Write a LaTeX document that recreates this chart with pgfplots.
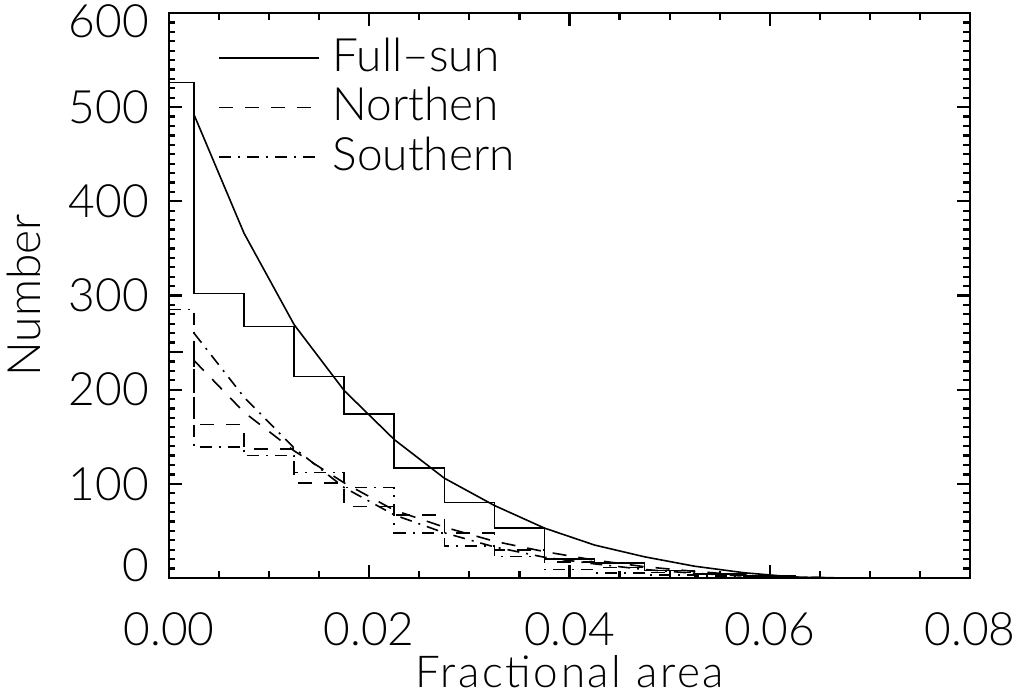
\documentclass[border=0pt]{standalone}
\usepackage{pgfplots}
\pgfplotsset{compat=1.18}
\usepackage{fontspec}
\setmainfont{Lato Light}
\begin{document}
\fontsize{23}{27}\selectfont
\begin{tikzpicture}
\useasboundingbox (-84.5pt,-59pt) rectangle (424.5pt,289pt);
\begin{axis}[
  scale only axis, width=400.5pt, height=282.5pt,
  anchor=south west, at={(0pt,0pt)},
  xmin=0, xmax=0.08, ymin=0, ymax=600,
  xtick={0,0.02,0.04,0.06,0.08},
  xticklabels={0.00,0.02,0.04,0.06,0.08},
  scaled x ticks=false,
  ytick={0,100,200,300,400,500,600},
  yticklabels={\raisebox{6.5pt}[\height][\depth]{0},100,200,300,400,500,\raisebox{-4pt}[\height][\depth]{600}},
  minor x tick num=3, minor y tick num=9,
  tick align=inside,
  major tick length=6.5pt, minor tick length=3.25pt,
  every axis/.append style={line width=1.1pt},
  tick style={black, line width=1.1pt},
  /pgf/number format/assume math mode=true,
  ticklabel style={font=\fontsize{23}{27}\selectfont},
  xticklabel style={inner sep=0.5pt, yshift=-16pt},
  yticklabel style={inner sep=2pt, xshift=-7.5pt},
  xlabel={\addfontfeature{LetterSpace=6}Fractional area},
  ylabel={Number},
  label style={font=\fontsize{23}{27}\selectfont, inner sep=0pt},
  every axis x label/.style={at={(axis description cs:0.5,-0.193)}, anchor=base,
    font=\fontsize{22}{26}\selectfont},
  every axis y label/.style={at={(axis description cs:-0.181,0.5)}, rotate=90, anchor=center},
  legend style={draw=none, fill=none, at={(axis cs:0.0048,579)}, anchor=north west,
    font=\fontsize{23}{27}\selectfont, row sep=0.5pt, inner sep=0pt,
    /tikz/column sep=4.5pt},
  legend cell align=left,
  legend image code/.code={\draw[#1] (0pt,0pt) -- (50pt,0pt);},
]
% legend entries
\addlegendimage{black, line width=0.8pt}
\addlegendentry{Full\textendash sun}
\addlegendimage{black, line width=0.8pt, dash pattern=on 7pt off 6pt}
\addlegendentry{Northen}
\addlegendimage{black, line width=0.8pt, dash pattern=on 6pt off 3.5pt on 1pt off 3.5pt}
\addlegendentry{Southern}

% Full-sun histogram
\addplot[black, line width=0.8pt, const plot mark mid, forget plot] coordinates {
 (0,526) (0.005,302) (0.01,267) (0.015,214) (0.02,174) (0.025,116.5) (0.03,80)
 (0.035,53) (0.04,20) (0.045,16) (0.05,8) (0.055,4) (0.06,2) (0.065,0.5) (0.07,0)};
% Full-sun fit
\addplot[black, line width=0.8pt, forget plot] coordinates {
 (0.0025,492) (0.0075,366) (0.0125,269) (0.0175,199) (0.0225,147) (0.0275,106)
 (0.0325,77) (0.0375,53) (0.0425,35) (0.0475,22.5) (0.0525,12.5) (0.0575,5.5)
 (0.0625,1) (0.0675,0) (0.07,0)};

% Northern histogram
\addplot[black, line width=0.8pt, dash pattern=on 7pt off 6pt, const plot mark mid, forget plot] coordinates {
 (0,240) (0.005,163) (0.01,137) (0.015,101) (0.02,76) (0.025,67) (0.03,48)
 (0.035,30) (0.04,17) (0.045,11) (0.05,6) (0.055,4) (0.06,2) (0.065,0.5) (0.07,0)};
% Northern fit
\addplot[black, line width=0.8pt, dash pattern=on 7pt off 6pt, forget plot] coordinates {
 (0.0025,231) (0.0075,176) (0.0125,135) (0.0175,101) (0.0225,72) (0.0275,54)
 (0.0325,39) (0.0375,28) (0.0425,19) (0.0475,12) (0.0525,7) (0.0575,3)
 (0.0625,1) (0.0675,0)};

% Southern histogram
\addplot[black, line width=0.8pt, dash pattern=on 6pt off 3.5pt on 1pt off 3.5pt, const plot mark mid, forget plot] coordinates {
 (0,285) (0.005,139) (0.01,130) (0.015,112) (0.02,96) (0.025,48) (0.03,34)
 (0.035,23) (0.04,9) (0.045,5) (0.05,3) (0.055,2) (0.06,1) (0.065,0) (0.07,0)};
% Southern fit
\addplot[black, line width=0.8pt, dash pattern=on 6pt off 3.5pt on 1pt off 3.5pt, forget plot] coordinates {
 (0.0025,260) (0.0075,192) (0.0125,138) (0.0175,96) (0.0225,67) (0.0275,48)
 (0.0325,33) (0.0375,22) (0.0425,15) (0.0475,9) (0.0525,5) (0.0575,2)
 (0.0625,0.5) (0.0675,0)};
\end{axis}
\end{tikzpicture}
\end{document}
